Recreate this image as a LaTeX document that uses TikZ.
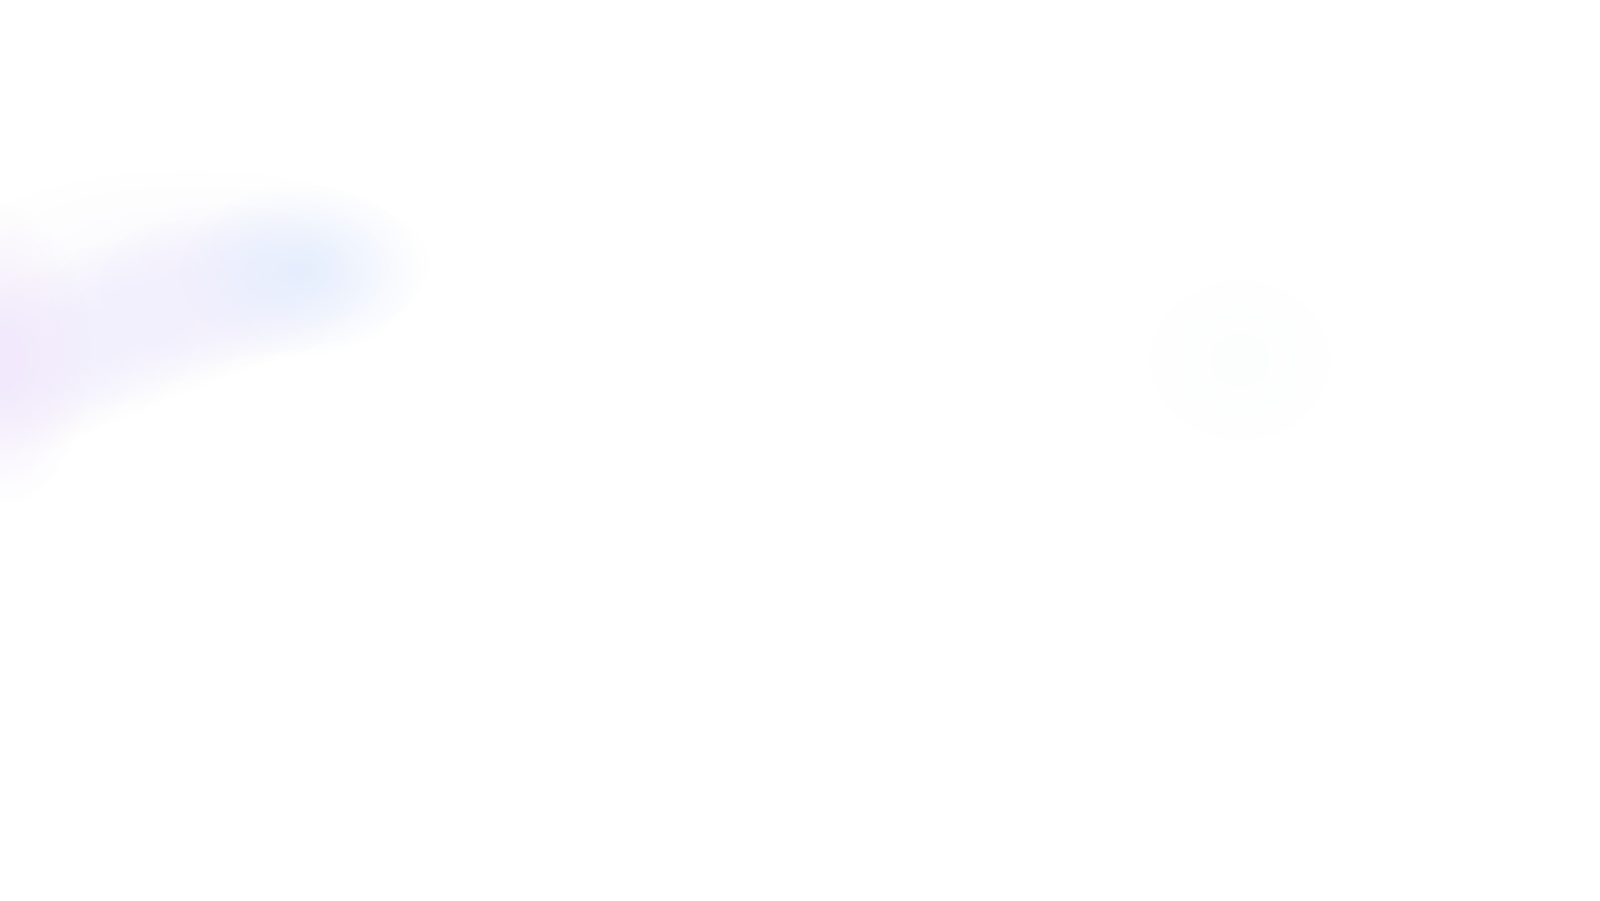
\documentclass[tikz,border=0pt]{standalone}
\usetikzlibrary{fadings}
\tikzfading[name=softglow, inner color=transparent!0, outer color=transparent!100]
\definecolor{glowblue}{RGB}{229,238,254}
\definecolor{glowlav}{RGB}{243,240,253}
\definecolor{glowpurple}{RGB}{242,233,252}
\definecolor{glowhalo}{RGB}{250,249,254}
\definecolor{glowmint}{RGB}{252,254,253}
\tikzset{glow/.style={path fading=softglow, fit fading=true}}
\begin{document}
\begin{tikzpicture}
\useasboundingbox (0,0) rectangle (16,9);
\fill[white] (0,0) rectangle (16,9);
\begin{scope}
\clip (0,0) rectangle (16,9);
% faint halo above the band
\fill[glowhalo, glow] (1.9,6.35) ellipse (2.4cm and 0.95cm);
% lavender band, rising to the right
\foreach \px/\py in {0/3.75, 0.6/3.5, 1.2/3.25, 1.8/3.02, 2.3/2.85}{
  \fill[glowlav, glow] (\px,9-\py) ellipse (1.3cm and 0.8cm);
}
% purple at left edge
\fill[glowpurple, glow] (0.0,5.45) ellipse (0.9cm and 1.5cm);
% blue blob
\fill[glowblue, glow] (3.0,6.3) ellipse (1.2cm and 0.85cm);
% faint mint spot on the right
\fill[glowmint, glow] (12.4,5.4) ellipse (0.9cm and 0.8cm);
\end{scope}
\end{tikzpicture}
\end{document}
